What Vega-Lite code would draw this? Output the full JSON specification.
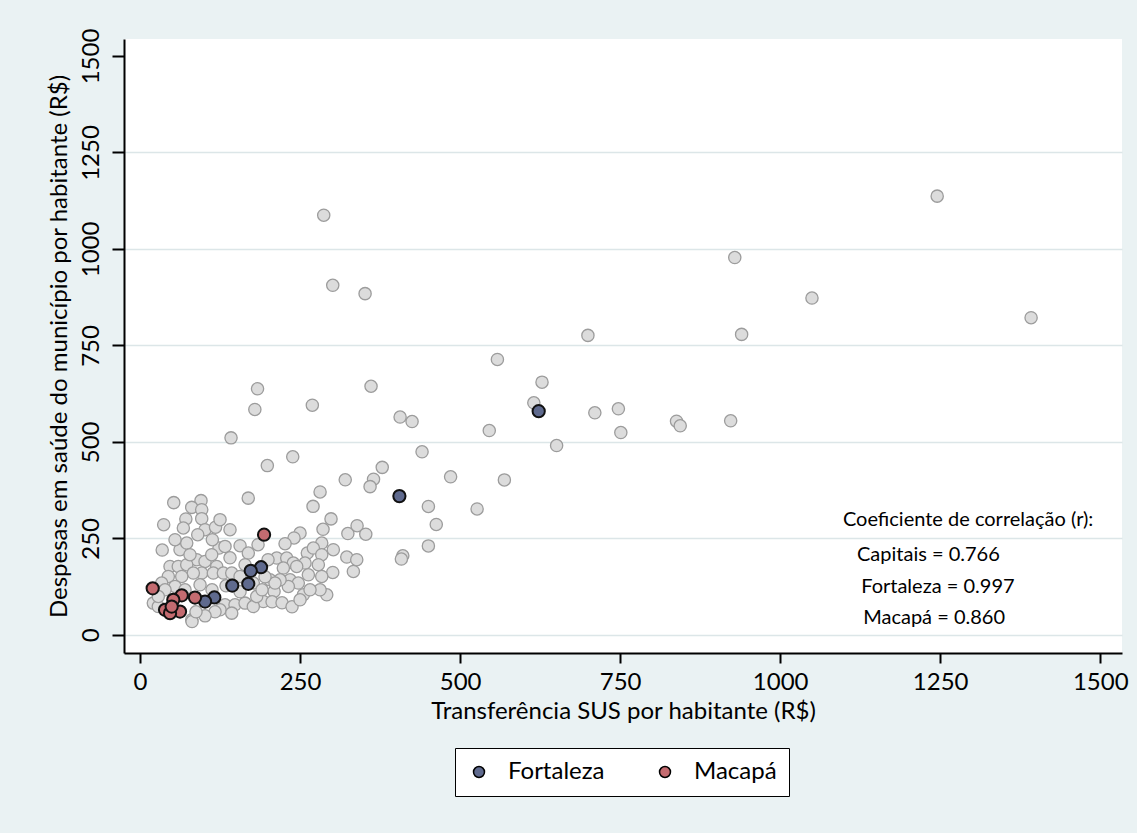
{
  "$schema": "https://vega.github.io/schema/vega-lite/v6.json",
  "width": 998,
  "height": 614,
  "autosize": "none",
  "padding": {"left": 124, "top": 39, "right": 15, "bottom": 180},
  "background": "#EAF2F3",
  "datasets": {
    "capitais": [
      {"x":1245.3,"y":1136.8},{"x":929.1,"y":977.7},{"x":1049.7,"y":872.8},{"x":1392.0,"y":821.9},
      {"x":699.7,"y":776.0},{"x":939.8,"y":778.6},{"x":628.0,"y":654.8},{"x":615.2,"y":601.3},
      {"x":710.5,"y":575.4},{"x":747.3,"y":585.8},{"x":751.1,"y":524.3},{"x":838.1,"y":553.6},
      {"x":843.9,"y":541.7},{"x":922.7,"y":554.6},{"x":650.8,"y":490.5},{"x":287.0,"y":1087.5},
      {"x":301.1,"y":905.8},{"x":351.6,"y":884.2},{"x":558.3,"y":713.7},{"x":183.6,"y":637.7},
      {"x":179.4,"y":584.0},{"x":269.2,"y":595.1},{"x":360.9,"y":644.2},{"x":406.3,"y":564.5},
      {"x":425.0,"y":552.8},{"x":545.6,"y":529.5},{"x":440.6,"y":474.4},{"x":238.6,"y":461.5},
      {"x":198.9,"y":438.6},{"x":378.4,"y":434.0},{"x":364.8,"y":403.3},{"x":359.4,"y":384.1},
      {"x":320.6,"y":401.8},{"x":485.2,"y":409.6},{"x":569.2,"y":401.5},{"x":281.3,"y":370.4},
      {"x":142.2,"y":510.5},{"x":169.1,"y":354.3},{"x":270.3,"y":333.0},{"x":450.5,"y":332.7},
      {"x":526.6,"y":326.2},{"x":462.8,"y":286.0},{"x":450.5,"y":230.5},{"x":410.5,"y":205.0},
      {"x":408.3,"y":196.5},{"x":298.4,"y":300.5},{"x":285.9,"y":273.5},{"x":324.7,"y":262.6},
      {"x":339.1,"y":282.9},{"x":352.7,"y":260.8},{"x":52.7,"y":342.6},{"x":95.3,"y":347.8},
      {"x":80.8,"y":330.4},{"x":96.4,"y":324.4},{"x":37.0,"y":285.5},{"x":71.6,"y":300.3},
      {"x":67.7,"y":276.9},{"x":96.4,"y":301.1},{"x":101.6,"y":272.5},{"x":118.0,"y":279.0},
      {"x":90.2,"y":259.5},{"x":34.7,"y":219.8},{"x":62.5,"y":220.6},{"x":73.0,"y":238.0},
      {"x":123.4,"y":225.0},{"x":113.0,"y":246.6},{"x":132.8,"y":229.2},{"x":156.3,"y":231.0},
      {"x":169.2,"y":212.0},{"x":88.6,"y":194.7},{"x":101.6,"y":190.2},{"x":112.0,"y":207.6},
      {"x":119.8,"y":177.3},{"x":46.9,"y":177.3},{"x":59.8,"y":177.3},{"x":73.0,"y":181.7},
      {"x":96.4,"y":160.1},{"x":83.3,"y":160.1},{"x":114.5,"y":160.1},{"x":130.2,"y":160.1},
      {"x":44.2,"y":151.3},{"x":65.2,"y":151.3},{"x":143.3,"y":160.1},{"x":156.3,"y":151.3},
      {"x":33.9,"y":134.2},{"x":54.7,"y":125.4},{"x":80.8,"y":38.9},{"x":20.8,"y":82.3},
      {"x":28.6,"y":73.4},{"x":132.8,"y":77.9},{"x":148.4,"y":77.9},{"x":164.1,"y":82.3},
      {"x":39.1,"y":116.8},{"x":28.6,"y":99.4},{"x":125.0,"y":64.9},{"x":143.3,"y":56.3},
      {"x":81.3,"y":34.5},{"x":250.0,"y":263.9},{"x":240.6,"y":251.0},{"x":226.6,"y":236.2},
      {"x":283.9,"y":238.0},{"x":302.0,"y":220.6},{"x":261.4,"y":212.0},{"x":270.8,"y":225.0},
      {"x":323.0,"y":201.7},{"x":338.6,"y":194.7},{"x":333.3,"y":164.3},{"x":301.1,"y":161.7},
      {"x":283.9,"y":207.6},{"x":278.6,"y":181.7},{"x":283.9,"y":151.3},{"x":213.6,"y":199.1},
      {"x":229.2,"y":199.1},{"x":239.5,"y":186.1},{"x":257.8,"y":186.1},{"x":263.0,"y":155.7},
      {"x":223.9,"y":173.1},{"x":244.8,"y":177.3},{"x":234.4,"y":142.7},{"x":247.3,"y":134.2},
      {"x":209.4,"y":112.4},{"x":192.7,"y":86.4},{"x":177.0,"y":73.4},{"x":291.7,"y":103.8},
      {"x":281.3,"y":116.8},{"x":255.2,"y":103.8},{"x":231.7,"y":125.4},{"x":218.8,"y":142.7},
      {"x":203.1,"y":142.7},{"x":177.0,"y":134.2},{"x":182.3,"y":99.4},{"x":210.9,"y":134.2},
      {"x":70.3,"y":116.8},{"x":93.8,"y":129.8},{"x":112.5,"y":116.8},{"x":117.2,"y":59.7},
      {"x":101.6,"y":49.3},{"x":156.3,"y":111.6},{"x":190.6,"y":116.8},{"x":195.3,"y":150.5},
      {"x":164.1,"y":181.7},{"x":140.6,"y":199.8},{"x":134.4,"y":127.2},{"x":87.5,"y":59.7},
      {"x":206.3,"y":85.6},{"x":221.9,"y":83.0},{"x":237.5,"y":72.7},{"x":250.0,"y":90.8},
      {"x":265.6,"y":116.8},{"x":200.0,"y":194.7},{"x":184.4,"y":233.6},{"x":140.6,"y":272.5},
      {"x":125.0,"y":298.5},{"x":54.7,"y":246.6},{"x":78.1,"y":207.6}
    ],
    "destaque": [
      {"x":622.8,"y":579.5,"cidade":"Fortaleza"},
      {"x":405.2,"y":359.5,"cidade":"Fortaleza"},
      {"x":189.1,"y":175.2,"cidade":"Fortaleza"},
      {"x":173.0,"y":166.1,"cidade":"Fortaleza"},
      {"x":169.1,"y":132.4,"cidade":"Fortaleza"},
      {"x":144.1,"y":127.9,"cidade":"Fortaleza"},
      {"x":116.1,"y":96.9,"cidade":"Fortaleza"},
      {"x":101.6,"y":86.4,"cidade":"Fortaleza"},
      {"x":193.8,"y":259.5,"cidade":"Macapá"},
      {"x":19.8,"y":120.7,"cidade":"Macapá"},
      {"x":65.2,"y":102.5,"cidade":"Macapá"},
      {"x":52.0,"y":90.8,"cidade":"Macapá"},
      {"x":85.9,"y":96.8,"cidade":"Macapá"},
      {"x":39.1,"y":64.9,"cidade":"Macapá"},
      {"x":62.5,"y":60.5,"cidade":"Macapá"},
      {"x":46.9,"y":56.3,"cidade":"Macapá"},
      {"x":49.5,"y":73.4,"cidade":"Macapá"}
    ]
  },
  "layer": [
    {
      "data": {"name": "capitais"},
      "mark": {"type": "circle", "size": 150, "fill": "#DCDCDC", "fillOpacity": 1, "stroke": "#9C9C9C", "strokeWidth": 1.3},
      "encoding": {
        "x": {
          "field": "x", "type": "quantitative",
          "scale": {"domain": [-25, 1534], "nice": false, "zero": false},
          "axis": {
            "title": "Transferência SUS por habitante (R$)",
            "values": [0, 250, 500, 750, 1000, 1250, 1500],
            "format": "d", "grid": false, "labelPadding": 7, "titlePadding": 5
          }
        },
        "y": {
          "field": "y", "type": "quantitative",
          "scale": {"domain": [-47, 1544], "nice": false, "zero": false},
          "axis": {
            "title": "Despesas em saúde do município por habitante (R$)",
            "values": [0, 250, 500, 750, 1000, 1250, 1500],
            "format": "d", "grid": true, "gridColor": "#DCE6E8", "gridWidth": 1.5,
            "gridOpacity": {"condition": {"test": "datum.value === 1500", "value": 0}, "value": 1},
            "labelAngle": 270, "labelAlign": "center", "labelBaseline": "bottom",
            "labelPadding": 9, "titlePadding": 8, "tickSize": 12
          }
        }
      }
    },
    {
      "data": {"name": "destaque"},
      "mark": {"type": "circle", "size": 150, "fillOpacity": 1, "stroke": "#111111", "strokeWidth": 2},
      "encoding": {
        "x": {"field": "x", "type": "quantitative"},
        "y": {"field": "y", "type": "quantitative"},
        "fill": {
          "field": "cidade", "type": "nominal",
          "scale": {"domain": ["Fortaleza", "Macapá"], "range": ["#5F6A8E", "#C46B70"]},
          "legend": {
            "title": null, "orient": "none", "legendX": 331, "legendY": 709, "direction": "horizontal",
            "strokeColor": "black", "fillColor": "white", "padding": 12,
            "labelFont": "Lato", "labelFontSize": 24, "labelColor": "black",
            "symbolType": "circle", "symbolSize": 120, "symbolStrokeColor": "black", "symbolStrokeWidth": 1.5,
            "columnPadding": 48, "labelOffset": 17
          }
        }
      }
    },
    {
      "data": {"values": [{}]},
      "mark": {"type": "text", "text": "Coeficiente de correlação (r):", "align": "left", "baseline": "middle", "font": "Lato", "fontSize": 20, "color": "black"},
      "encoding": {"x": {"datum": 1098}, "y": {"datum": 298.5}}
    },
    {
      "data": {"values": [{}]},
      "mark": {"type": "text", "text": "Capitais = 0.766", "align": "left", "baseline": "middle", "font": "Lato", "fontSize": 20, "color": "black"},
      "encoding": {"x": {"datum": 1120}, "y": {"datum": 207.6}}
    },
    {
      "data": {"values": [{}]},
      "mark": {"type": "text", "text": "Fortaleza = 0.997", "align": "left", "baseline": "middle", "font": "Lato", "fontSize": 20, "color": "black"},
      "encoding": {"x": {"datum": 1126.6}, "y": {"datum": 124.6}}
    },
    {
      "data": {"values": [{}]},
      "mark": {"type": "text", "text": "Macapá = 0.860", "align": "left", "baseline": "middle", "font": "Lato", "fontSize": 20, "color": "black"},
      "encoding": {"x": {"datum": 1129.7}, "y": {"datum": 44.1}}
    }
  ],
  "config": {
    "view": {"fill": "white", "stroke": null},
    "axis": {
      "domainColor": "black", "domainWidth": 2, "tickColor": "black", "tickWidth": 2, "tickSize": 10,
      "labelFont": "Lato", "labelFontSize": 24, "labelColor": "black",
      "titleFont": "Lato", "titleFontSize": 24, "titleFontWeight": "normal", "titleColor": "black"
    }
  }
}
